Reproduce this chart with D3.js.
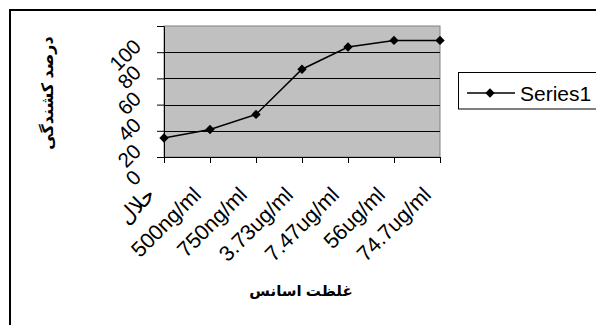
<!DOCTYPE html>
<html>
<head>
<meta charset="utf-8">
<script src="https://cdn.jsdelivr.net/npm/d3@7/dist/d3.min.js"></script>
<style>
  html, body { margin: 0; padding: 0; background: #fff; }
  svg { display: block; }
  text { font-family: Arial, "Liberation Sans", "DejaVu Sans", sans-serif; }
</style>
</head>
<body>
<svg id="chart" width="596" height="325"></svg>
<script>
// Concentrations tested (first entry is the solvent control)
const categories = ["حلال", "500ng/ml", "750ng/ml", "3.73ug/ml", "7.47ug/ml", "56ug/ml", "74.7ug/ml"];
// Lethality (%) at each concentration
const series1 = [14.5, 21, 32.5, 67, 84, 89, 89];
const seriesName = "Series1";
const yTicks = [0, 20, 40, 60, 80, 100];
const xTitle = "غلظت اسانس";
const yTitle = "درصد کشندگی";

const svg = d3.select("#chart");
const W = 596, H = 325;
const plot = { left: 164, right: 440, top: 26, bottom: 157 };

svg.append("rect").attr("width", W).attr("height", H).attr("fill", "#fff");

// chart frame (only left and top edges fall inside the view)
svg.append("rect")
  .attr("x", 10).attr("y", 10)
  .attr("width", W + 10).attr("height", H + 10)
  .attr("fill", "none").attr("stroke", "#000").attr("stroke-width", 2);

const x = d3.scalePoint().domain(categories).range([plot.left, plot.right]).padding(0);
const y = d3.scaleLinear().domain([0, 100]).range([plot.bottom, plot.top]);

// plot area
svg.append("rect")
  .attr("x", plot.left).attr("y", plot.top)
  .attr("width", plot.right - plot.left).attr("height", plot.bottom - plot.top)
  .attr("fill", "#c0c0c0").attr("stroke", "#808080").attr("stroke-width", 1);

// horizontal gridlines
svg.append("g").selectAll("line")
  .data(yTicks.filter(d => d > 0 && d < 100))
  .join("line")
  .attr("x1", plot.left).attr("x2", plot.right)
  .attr("y1", d => Math.round(y(d)) + 0.5).attr("y2", d => Math.round(y(d)) + 0.5)
  .attr("stroke", "#000").attr("stroke-width", 1);

// y axis
const yAxis = svg.append("g")
  .attr("transform", `translate(${plot.left},0)`)
  .call(d3.axisLeft(y).tickValues(yTicks).tickSize(7).tickSizeOuter(0).tickFormat(d3.format("d")));
yAxis.select(".domain").attr("stroke", "#000");
yAxis.selectAll(".tick line").attr("stroke", "#000");
yAxis.selectAll(".tick text")
  .attr("x", 0).attr("dy", null)
  .attr("text-anchor", "end")
  .attr("dominant-baseline", "central")
  .attr("font-size", 20.5)
  .attr("fill", "#000")
  .attr("transform", "translate(-27,16) rotate(-45)");

// x axis
const xAxis = svg.append("g")
  .attr("transform", `translate(0,${plot.bottom})`)
  .call(d3.axisBottom(x).tickSize(6).tickSizeOuter(0));
xAxis.select(".domain").attr("stroke", "#000");
xAxis.selectAll(".tick line").attr("stroke", "#000");
xAxis.selectAll(".tick text")
  .attr("y", 0).attr("dy", null)
  .attr("text-anchor", "end")
  .attr("font-size", 21.5)
  .attr("fill", "#000")
  .attr("transform", "translate(-8,39) rotate(-45)");

// data line and diamond markers
const pts = categories.map((c, i) => [x(c), y(series1[i])]);
svg.append("path")
  .attr("d", d3.line()(pts))
  .attr("fill", "none").attr("stroke", "#000").attr("stroke-width", 1.5);
const diamond = d3.symbol().type(d3.symbolDiamond2).size(56);
svg.append("g").selectAll("path")
  .data(pts)
  .join("path")
  .attr("d", diamond)
  .attr("transform", d => `translate(${d[0]},${d[1]})`)
  .attr("fill", "#000");

// axis titles
svg.append("text")
  .attr("x", 301).attr("y", 290)
  .attr("text-anchor", "middle").attr("dominant-baseline", "central")
  .attr("font-size", 15).attr("font-weight", "bold")
  .text(xTitle);
svg.append("text")
  .attr("transform", "translate(47,93) rotate(-90)")
  .attr("text-anchor", "middle").attr("dominant-baseline", "central")
  .attr("font-size", 16).attr("font-weight", "bold")
  .text(yTitle);

// legend
const lg = svg.append("g");
lg.append("rect")
  .attr("x", 458.5).attr("y", 72.5).attr("width", 150).attr("height", 36.5)
  .attr("fill", "#fff").attr("stroke", "#000").attr("stroke-width", 1);
lg.append("line")
  .attr("x1", 467).attr("x2", 515).attr("y1", 93).attr("y2", 93)
  .attr("stroke", "#000").attr("stroke-width", 1.5);
lg.append("path").attr("d", diamond).attr("transform", "translate(490,93)").attr("fill", "#000");
lg.append("text")
  .attr("x", 520).attr("y", 93)
  .attr("dominant-baseline", "central")
  .attr("font-size", 21)
  .text(seriesName);
</script>
</body>
</html>
